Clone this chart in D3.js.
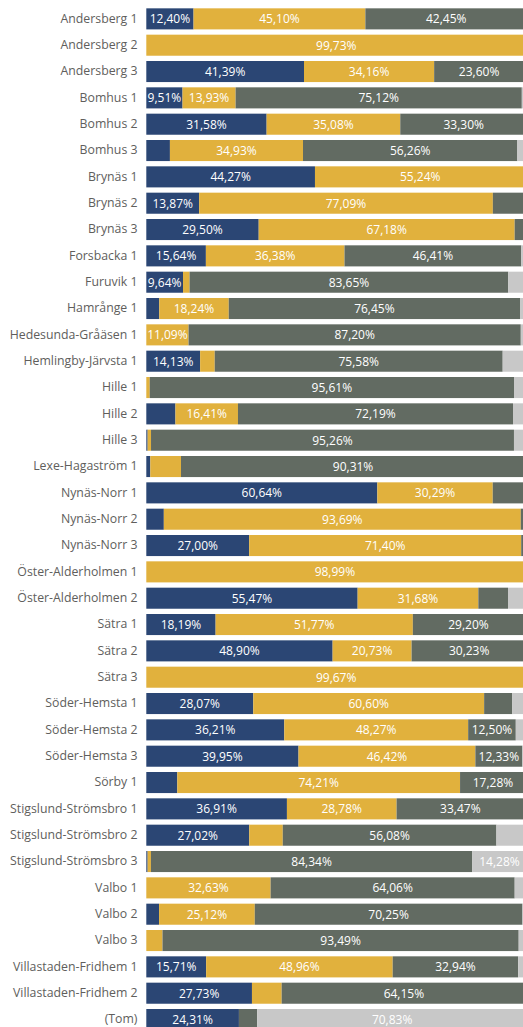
<!DOCTYPE html>
<html>
<head>
<meta charset="utf-8">
<script src="https://cdn.jsdelivr.net/npm/d3@7"></script>
<style>
  html, body { margin: 0; padding: 0; background: #fff; overflow: hidden; }
  svg { display: block; }
</style>
</head>
<body>
<div id="chart"></div>
<script>
// Categories (top to bottom)
const categories = [
  "Andersberg 1", "Andersberg 2", "Andersberg 3",
  "Bomhus 1", "Bomhus 2", "Bomhus 3",
  "Brynäs 1", "Brynäs 2", "Brynäs 3",
  "Forsbacka 1", "Furuvik 1", "Hamrånge 1",
  "Hedesunda-Gråäsen 1", "Hemlingby-Järvsta 1",
  "Hille 1", "Hille 2", "Hille 3",
  "Lexe-Hagaström 1",
  "Nynäs-Norr 1", "Nynäs-Norr 2", "Nynäs-Norr 3",
  "Öster-Alderholmen 1", "Öster-Alderholmen 2",
  "Sätra 1", "Sätra 2", "Sätra 3",
  "Söder-Hemsta 1", "Söder-Hemsta 2", "Söder-Hemsta 3",
  "Sörby 1",
  "Stigslund-Strömsbro 1", "Stigslund-Strömsbro 2", "Stigslund-Strömsbro 3",
  "Valbo 1", "Valbo 2", "Valbo 3",
  "Villastaden-Fridhem 1", "Villastaden-Fridhem 2",
  "(Tom)"
];

// Share (%) per category for each of the four series
const series1 = [12.40, 0, 41.39, 9.51, 31.58, 6.20, 44.27, 13.87, 29.50, 15.64, 9.64, 3.40, 0, 14.13,
  0, 7.65, 0.35, 1.05, 60.64, 4.60, 27.00, 0, 55.47, 18.19, 48.90, 0, 28.07, 36.21, 39.95,
  8.14, 36.91, 27.02, 0.35, 0, 3.35, 0, 15.71, 27.73, 24.31];
const series2 = [45.10, 99.73, 34.16, 13.93, 35.08, 34.93, 55.24, 77.09, 67.18, 36.38, 1.72, 18.24, 11.09, 3.83,
  0.90, 16.41, 0.89, 8.06, 30.29, 93.69, 71.40, 98.99, 31.68, 51.77, 20.73, 99.67, 60.60, 48.27, 46.42,
  74.21, 28.78, 8.80, 0.87, 32.63, 25.12, 4.25, 48.96, 7.80, 0];
const series3 = [42.45, 0.27, 23.60, 75.12, 33.30, 56.26, 0.49, 9.04, 3.32, 46.41, 83.65, 76.45, 87.20, 75.58,
  95.61, 72.19, 95.26, 90.31, 9.07, 1.71, 1.60, 1.01, 7.79, 29.20, 30.23, 0.33, 7.39, 12.50, 12.33,
  17.28, 33.47, 56.08, 84.34, 64.06, 70.25, 93.49, 32.94, 64.15, 4.80];
const series4 = [0.05, 0, 0.85, 1.44, 0.04, 2.61, 0, 0, 0, 1.57, 4.99, 1.91, 1.71, 6.46,
  3.49, 3.75, 3.50, 0.58, 0, 0, 0, 0, 5.06, 0.84, 0.14, 0, 3.94, 3.02, 1.30,
  0.37, 0.84, 8.10, 14.28, 3.31, 1.28, 2.26, 2.39, 0.32, 70.83];

const seriesKeys = ["s1", "s2", "s3", "s4"];
const seriesColors = ["#2B4674", "#E1B13D", "#626B62", "#C8C8C8"];

const W = 523, H = 1027;
const labelRight = 137.5;
const barLeft = 146.3;

const rows = categories.map((c, i) => ({
  cat: c, s1: series1[i], s2: series2[i], s3: series3[i], s4: series4[i]
}));

const stacked = d3.stack().keys(seriesKeys)(rows);

const x = d3.scaleLinear().domain([0, 100]).range([barLeft, barLeft + 381]);
const y = d3.scaleBand().domain(categories).range([5.7, 1032.7])
  .paddingInner(0.2).paddingOuter(0.1);

const sv = d3.formatLocale({ decimal: ",", thousands: "\u00a0", grouping: [3], currency: ["", " kr"] });
const fmt = v => sv.format(".2f")(v) + "%";

const svg = d3.select("#chart").append("svg")
  .attr("width", W).attr("height", H)
  .attr("viewBox", `0 0 ${W} ${H}`);

// Category axis
const yAxis = d3.axisLeft(y).tickSize(0).tickPadding(0);
const gy = svg.append("g").attr("transform", `translate(${labelRight},0)`).call(yAxis);
gy.select(".domain").remove();
gy.selectAll("text")
  .attr("fill", "#605E5C")
  .style("font-family", "'Open Sans', 'Noto Sans', sans-serif")
  .style("font-size", "12.3px");

// Stacked segments
const layers = svg.append("g").selectAll("g")
  .data(stacked).join("g")
  .attr("fill", (d, i) => seriesColors[i]);

layers.selectAll("rect")
  .data(d => d.map(p => ({ p, cat: p.data.cat })))
  .join("rect")
  .attr("x", d => x(d.p[0]))
  .attr("y", d => y(d.cat))
  .attr("width", d => Math.max(0, x(d.p[1]) - x(d.p[0])))
  .attr("height", y.bandwidth());

// Data labels where the visible segment is wide enough
const labels = [];
stacked.forEach(layer => {
  layer.forEach(p => {
    const v = p[1] - p[0];
    const x0 = x(p[0]), x1 = x(p[1]);
    const visible = Math.min(x1, W) - x0;
    if (v > 0 && visible >= 35) {
      labels.push({ cx: (x0 + x1) / 2, cy: y(p.data.cat) + y.bandwidth() / 2, text: fmt(v) });
    }
  });
});

svg.append("g").selectAll("text")
  .data(labels).join("text")
  .attr("x", d => d.cx)
  .attr("y", d => d.cy)
  .attr("text-anchor", "middle")
  .attr("dominant-baseline", "central")
  .attr("fill", "#fff")
  .style("font-family", "'Open Sans', 'Noto Sans', sans-serif")
  .style("font-size", "12px")
  .text(d => d.text);
</script>
</body>
</html>
